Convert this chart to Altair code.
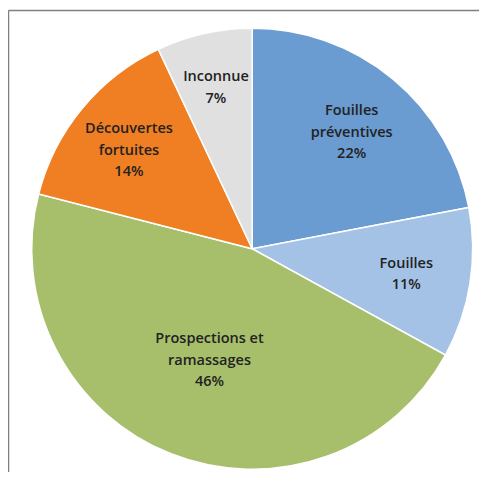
import altair as alt
import pandas as pd

categories = ["Fouilles préventives", "Fouilles", "Prospections et ramassages", "Découvertes fortuites", "Inconnue"]
labels = ["Fouilles\npréventives\n22%", "Fouilles\n11%", "Prospections et\nramassages\n46%", "Découvertes\nfortuites\n14%", "Inconnue\n7%"]
values = [22, 11, 46, 14, 7]
colors = ["#6a9bd1", "#a3c2e6", "#a7bf6b", "#f07e22", "#e0e0e0"]

df = pd.DataFrame({
    "cat": categories,
    "label": labels,
    "value": values,
    "order": list(range(len(categories))),
})

label_r = {"Fouilles préventives": 156, "Fouilles": 156, "Prospections et ramassages": 116,
           "Découvertes fortuites": 160, "Inconnue": 166}
expr = " : ".join([f"datum.cat === '{k}' ? {v}" for k, v in label_r.items()]) + " : 150"

CX, CY = 244.2, 240.8
LH = 21.5
W, H = 471, 464
DY = {2: -9.5, 3: -17.5}

pie = alt.Chart(df).mark_arc(outerRadius=220.5, stroke="white", strokeWidth=1.5).encode(
    theta=alt.Theta("value:Q", stack=True, scale=alt.Scale(domain=[0, 100])),
    order=alt.Order("order:O"),
    color=alt.Color("cat:N", scale=alt.Scale(domain=categories, range=colors), legend=None),
    x=alt.value(CX), y=alt.value(CY),
)

text_base = alt.Chart(df).transform_window(
    cum="sum(value)", sort=[alt.SortField("order")]
).transform_calculate(
    mid="datum.cum - datum.value / 2", r=expr,
    nlines="split(datum.label, '\\n').length",
)


def text_layer(n):
    return text_base.transform_filter(f"datum.nlines === {n}").mark_text(
        font="Open Sans", fontSize=14.5, fontWeight=600, color="#222222",
        lineBreak="\n", lineHeight=LH, align="center", baseline="middle",
        dy=DY[n],
    ).encode(
        theta=alt.Theta("mid:Q", scale=alt.Scale(domain=[0, 100])),
        text="label:N",
        radius=alt.Radius("r:Q", scale=None),
        x=alt.value(CX), y=alt.value(CY),
    )


frame_data = alt.Data(values=[{"a": 1}])
top_line = alt.Chart(frame_data).mark_rule(color="#808080", strokeWidth=1.5).encode(
    x=alt.value(0.5), x2=alt.value(W), y=alt.value(2.5)
)
left_line = alt.Chart(frame_data).mark_rule(color="#808080", strokeWidth=1.5).encode(
    x=alt.value(0.5), y=alt.value(2.5), y2=alt.value(H)
)

chart = alt.layer(pie, text_layer(2), text_layer(3), top_line, left_line).properties(
    width=W, height=H, padding=0, autosize=alt.AutoSizeParams(type="none")
).configure_view(stroke=None)

chart.save("out.html", embed_options={"renderer": "svg", "actions": False})
